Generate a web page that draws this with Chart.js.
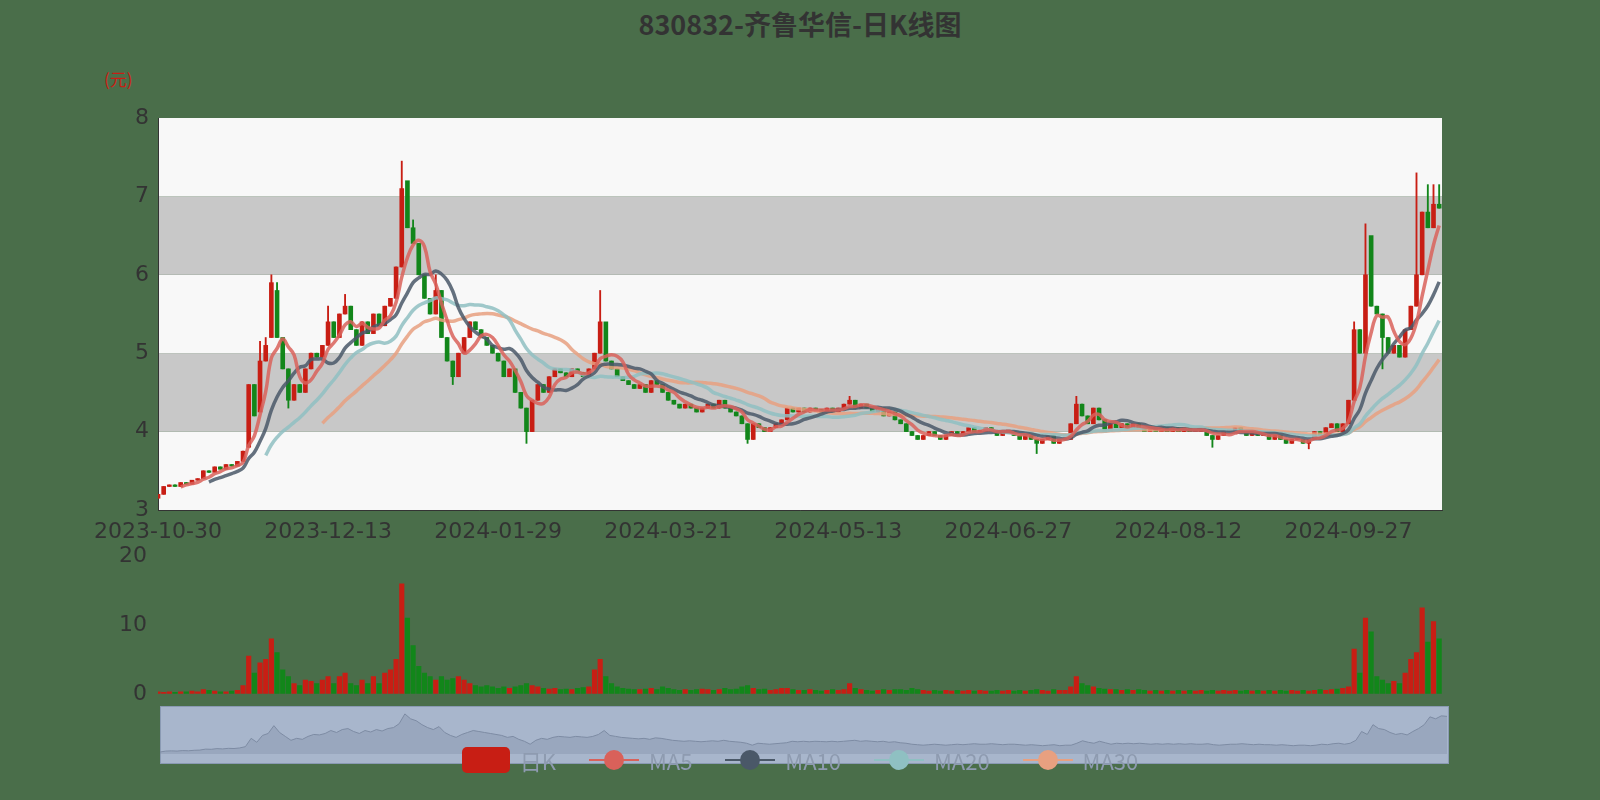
<!DOCTYPE html>
<html><head><meta charset="utf-8">
<script src="https://cdn.jsdelivr.net/npm/chart.js@4"></script>
<style>
body{margin:0;width:1600px;height:800px;background:#4a6e4a;position:relative;overflow:hidden;font-family:"Noto Sans CJK SC","Noto Sans",sans-serif}
canvas{position:absolute}
#title{position:absolute;top:4px;width:1600px;text-align:center;font-size:27px;font-weight:bold;color:#333}
#unit{position:absolute;left:104px;top:66px;font-size:17px;color:#c81e14}
#zoom{position:absolute;left:160px;top:706px;width:1287px;height:56px;background:#a8b6cc;border:1px solid #8a9ab3}
#legend{position:absolute;top:744px;left:0;width:1600px;text-align:center;font-size:22px;color:#8e9bb0}
#legend span{margin:0 14px;display:inline-flex;align-items:center;gap:10px}
</style></head><body>
<div id="title">830832-齐鲁华信-日K线图</div>
<div id="unit">(元)</div>
<canvas id="main" width="1600" height="455" style="top:90px;left:0"></canvas>
<canvas id="vol" width="1600" height="170" style="top:540px;left:0"></canvas>
<div id="zoom"></div>
<canvas id="mini" width="1287" height="56" style="top:706px;left:160px"></canvas>
<div id="legend">
<span><i style="display:inline-block;width:48px;height:26px;background:#c81e14;border-radius:5px"></i>日K</span>
<span><svg width="50" height="26"><line x1="0" y1="13" x2="50" y2="13" stroke="#d9615a" stroke-width="2"/><circle cx="25" cy="13" r="10" fill="#d9615a"/></svg>MA5</span>
<span><svg width="50" height="26"><line x1="0" y1="13" x2="50" y2="13" stroke="#4a5868" stroke-width="2"/><circle cx="25" cy="13" r="10" fill="#4a5868"/></svg>MA10</span>
<span><svg width="50" height="26"><line x1="0" y1="13" x2="50" y2="13" stroke="#8fc0c2" stroke-width="2"/><circle cx="25" cy="13" r="10" fill="#8fc0c2"/></svg>MA20</span>
<span><svg width="50" height="26"><line x1="0" y1="13" x2="50" y2="13" stroke="#e8a080" stroke-width="2"/><circle cx="25" cy="13" r="10" fill="#e8a080"/></svg>MA30</span>
</div>
<script>
var tickLabels = ["2023-10-30","2023-12-13","2024-01-29","2024-03-21","2024-05-13","2024-06-27","2024-08-12","2024-09-27"];

var closes = [3.20,3.30,3.32,3.30,3.35,3.33,3.38,3.40,3.50,3.48,3.55,3.52,3.58,3.56,3.62,
3.75,4.60,4.20,4.90,5.10,5.90,
5.20,4.80,4.40,4.60,4.50,4.80,5.00,4.95,
5.10,5.40,5.20,5.50,5.60,5.30,5.10,5.40,5.25,5.50,5.35,5.60,
5.70,6.10,7.10,6.60,6.40,6.00,
5.70,5.50,5.80,5.20,4.90,4.70,5.00,5.20,5.40,5.30,
5.20,5.10,5.00,4.90,4.70,4.80,4.50,4.30,4.00,4.40,
4.60,4.50,4.70,4.80,4.75,4.70,4.80,4.75,4.70,4.80,
5.00,5.40,4.90,4.80,
4.70,4.65,4.60,4.55,4.60,4.50,4.65,4.60,4.50,4.40,4.35,4.30,4.35,4.30,4.25,4.30,4.35,4.30,4.40,4.30,
4.25,4.20,4.10,3.90,4.10,4.05,4.00,4.05,4.10,4.15,
4.30,4.25,4.30,4.25,4.30,4.28,4.25,4.30,4.25,4.30,4.35,4.40,4.30,4.35,4.30,4.25,4.30,4.20,4.25,4.15,
4.10,4.00,3.95,3.90,3.95,4.00,3.95,3.90,3.95,4.00,3.95,4.00,4.05,4.00,4.00,4.05,4.00,3.95,4.00,4.00,3.95,3.90,3.95,3.90,3.85,3.90,3.95,3.85,3.90,3.90,
4.10,4.35,4.20,4.10,4.30,4.15,4.00,4.10,4.05,4.10,
4.05,4.10,4.05,4.00,4.05,4.00,4.05,4.00,4.05,4.00,4.05,4.00,4.00,4.05,3.95,3.90,3.95,4.00,4.00,4.05,4.00,3.95,4.00,3.95,3.95,3.90,3.95,3.90,3.85,3.90,3.90,3.85,3.90,4.00,3.95,4.05,4.10,4.00,4.10,4.40,
5.30,5.00,6.00,5.60,5.50,5.20,
5.00,5.10,4.95,5.30,5.60,6.00,
6.80,6.60,6.90,6.85];

var opens = [3.15,3.20,3.30,3.32,3.30,3.35,3.33,3.38,3.40,3.50,3.48,3.55,3.52,3.58,3.56,
3.62,3.80,4.60,4.25,4.90,5.20,
5.80,5.20,4.80,4.40,4.60,4.50,4.80,5.00,
4.95,5.10,5.40,5.20,5.50,5.60,5.30,5.10,5.40,5.25,5.50,5.35,
5.60,5.70,6.10,7.20,6.60,6.40,
6.00,5.70,5.50,5.80,5.20,4.90,4.70,5.00,5.20,5.40,
5.30,5.20,5.10,5.00,4.90,4.70,4.80,4.50,4.30,4.00,
4.40,4.60,4.50,4.70,4.80,4.75,4.70,4.80,4.75,4.70,
4.80,5.00,5.40,4.90,
4.80,4.70,4.65,4.60,4.55,4.60,4.50,4.65,4.60,4.50,4.40,4.35,4.30,4.35,4.30,4.25,4.30,4.35,4.30,4.40,
4.30,4.25,4.20,4.10,3.90,4.10,4.05,4.00,4.05,4.10,
4.15,4.30,4.25,4.30,4.25,4.30,4.28,4.25,4.30,4.25,4.30,4.35,4.40,4.30,4.35,4.30,4.25,4.30,4.20,4.25,
4.15,4.10,4.00,3.95,3.90,3.95,4.00,3.95,3.90,3.95,4.00,3.95,4.00,4.05,4.00,4.00,4.05,4.00,3.95,4.00,4.00,3.95,3.90,3.95,3.90,3.85,3.90,3.95,3.85,3.90,
3.90,4.10,4.35,4.20,4.10,4.30,4.15,4.00,4.10,4.05,
4.10,4.05,4.10,4.05,4.00,4.05,4.00,4.05,4.00,4.05,4.00,4.05,4.00,4.00,4.05,3.95,3.90,3.95,4.00,4.00,4.05,4.00,3.95,4.00,3.95,3.95,3.90,3.95,3.90,3.85,3.90,3.90,3.85,3.90,4.00,3.95,4.05,4.10,4.00,4.10,
4.40,5.30,5.00,6.50,5.60,5.50,
5.20,5.00,5.10,4.95,5.30,5.60,
6.00,6.80,6.60,6.90];

// only the visible long shadows
var wickHighs = {18:5.15,19:5.2,20:6.0,21:5.9,30:5.6,33:5.75,43:7.45,44:6.9,45:6.7,49:6.0,78:5.8,79:5.3,122:4.45,162:4.45,211:5.4,213:6.65,214:6.0,222:7.3,224:7.15,225:7.15,226:7.15};
var wickLows = {23:4.3,52:4.6,65:3.85,104:3.85,155:3.72,186:3.8,203:3.78,216:4.8};

var volumes = [0.3,0.2,0.3,0.2,0.3,0.3,0.4,0.3,0.6,0.5,0.4,0.3,0.3,0.4,0.5,
1.2,5.5,3.0,4.5,5.0,8.0,
6.0,3.5,2.5,1.5,1.2,2.0,1.8,1.5,
2.0,2.5,1.5,2.5,3.0,1.5,1.2,2.0,1.5,2.5,1.5,3.0,
3.5,5.0,16.0,11.0,7.0,4.0,
3.0,2.5,2.0,2.5,2.0,2.2,2.5,2.0,1.5,1.2,
1.0,1.2,1.0,0.8,1.0,0.8,1.0,1.2,1.5,1.2,
1.0,0.8,0.7,0.8,0.6,0.7,0.6,0.8,0.9,1.0,
3.5,5.0,2.5,1.5,
1.0,0.8,0.7,0.6,0.6,0.7,0.8,0.6,1.0,0.8,0.6,0.5,0.6,0.5,0.6,0.7,0.6,0.5,0.6,0.8,
0.6,0.7,1.0,1.2,0.8,0.6,0.7,0.5,0.6,0.8,
0.8,0.6,0.5,0.5,0.6,0.5,0.4,0.5,0.6,0.5,0.6,1.5,0.8,0.6,0.5,0.4,0.5,0.6,0.5,0.6,
0.6,0.5,0.8,0.6,0.5,0.4,0.5,0.4,0.5,0.4,0.5,0.4,0.5,0.4,0.5,0.4,0.4,0.5,0.4,0.5,0.4,0.5,0.4,0.5,0.6,0.5,0.4,0.6,0.5,0.5,
1.0,2.5,1.5,1.2,1.0,0.8,0.7,0.6,0.6,0.5,
0.6,0.5,0.6,0.5,0.4,0.5,0.4,0.5,0.4,0.5,0.4,0.5,0.4,0.5,0.4,0.5,0.4,0.5,0.4,0.5,0.4,0.5,0.4,0.5,0.4,0.5,0.4,0.5,0.4,0.5,0.4,0.5,0.4,0.5,0.6,0.5,0.6,0.7,0.8,1.0,
6.5,3.0,11.0,9.0,2.5,2.0,
1.5,1.8,1.5,3.0,5.0,6.0,
12.5,7.5,10.5,8.0];

var UP = "#c81e14", DOWN = "#12861a";
var colors = closes.map((c, i) => c >= opens[i] ? UP : DOWN);
var bodies = closes.map((c, i) => ({x: i, y: [Math.min(c, opens[i]), Math.max(c, opens[i])]}));
var wicks = closes.map((c, i) => ({x: i, y: [wickLows[i] ?? Math.min(c, opens[i]), wickHighs[i] ?? Math.max(c, opens[i])]}));

function ma(n) {
    return closes.map((c, i) => {
        if (i < n - 1) return {x: i, y: null};
        var s = 0;
        for (var k = i - n + 1; k <= i; k++) s += closes[k];
        return {x: i, y: s / n};
    });
}
function maLine(label, n, color) {
    return {type: 'line', label: label, data: ma(n), borderColor: color, borderWidth: 3.5,
        pointRadius: 0, tension: 0.4, fill: false, order: 0};
}

var bands = {
    id: 'bands',
    beforeDraw(chart) {
        var a = chart.chartArea, y = chart.scales.y, c = chart.ctx;
        for (var v = 3; v < 8; v++) {
            c.fillStyle = (v % 2 == 0) ? "#c8c8c8" : "#f8f8f8";
            var t = y.getPixelForValue(v + 1), b = y.getPixelForValue(v);
            c.fillRect(a.left, t, a.right - a.left, b - t);
        }
    }
};

var tickFont = {size: 22, family: "DejaVu Sans"};

new Chart(document.getElementById("main").getContext("2d"), {
    type: 'bar',
    data: {datasets: [
        {label: 'wick', data: wicks, backgroundColor: colors, barThickness: 1.2, grouped: false, order: 2},
        {label: '日K', data: bodies, backgroundColor: colors, barThickness: 4, grouped: false, minBarLength: 1.5, order: 1},
        maLine('MA5', 5, 'rgba(217,97,90,0.85)'),
        maLine('MA10', 10, 'rgba(74,88,104,0.85)'),
        maLine('MA20', 20, 'rgba(143,192,194,0.85)'),
        maLine('MA30', 30, 'rgba(232,160,128,0.85)')
    ]},
    options: {
        animation: false, responsive: false,
        layout: {padding: {top: 28, right: 158, left: 0, bottom: 0}},
        plugins: {legend: {display: false}, tooltip: {enabled: false}},
        scales: {
            x: {
                type: 'linear', min: 0, max: 226.5, offset: false,
                grid: {display: false, drawTicks: true, tickLength: 6, tickColor: '#333'},
                border: {color: '#333'},
                afterBuildTicks: s => { s.ticks = tickLabels.map((t, i) => ({value: i * 30})); },
                ticks: {color: '#333', font: tickFont, maxRotation: 0, autoSkip: false, callback: (v) => tickLabels[v / 30]},
                afterFit: s => { s.height = 35; }
            },
            y: {min: 3, max: 8, grid: {display: false, tickLength: 6, tickColor: '#333'}, border: {color: '#333'},
                ticks: {stepSize: 1, color: '#333', font: tickFont},
                afterFit: s => { s.width = 158; }}
        }
    },
    plugins: [bands]
});

new Chart(document.getElementById("vol").getContext("2d"), {
    type: 'bar',
    data: {datasets: [{data: volumes.map((v, i) => ({x: i, y: v})), backgroundColor: colors, barThickness: 4.5}]},
    options: {
        animation: false, responsive: false,
        layout: {padding: {top: 8, right: 158, bottom: 5}},
        plugins: {legend: {display: false}, tooltip: {enabled: false}},
        scales: {
            x: {type: 'linear', min: 0, max: 226.5, offset: false, display: false},
            y: {min: 0, max: 20, grid: {display: false}, border: {display: false},
                ticks: {stepSize: 10, color: '#333', font: tickFont},
                afterFit: s => { s.width = 158; }}
        }
    }
});

new Chart(document.getElementById("mini").getContext("2d"), {
    type: 'line',
    data: {datasets: [{data: closes.map((c, i) => ({x: i, y: c})), borderColor: '#7d8ba3', borderWidth: 1,
        backgroundColor: 'rgba(125,139,163,0.35)', fill: 'start', pointRadius: 0}]},
    options: {
        animation: false, responsive: false,
        layout: {padding: {top: 4, bottom: 8}},
        plugins: {legend: {display: false}, tooltip: {enabled: false}},
        scales: {x: {type: 'linear', min: 0, max: 226, display: false}, y: {min: 3, max: 7.5, display: false}}
    }
});
</script>
</body></html>
